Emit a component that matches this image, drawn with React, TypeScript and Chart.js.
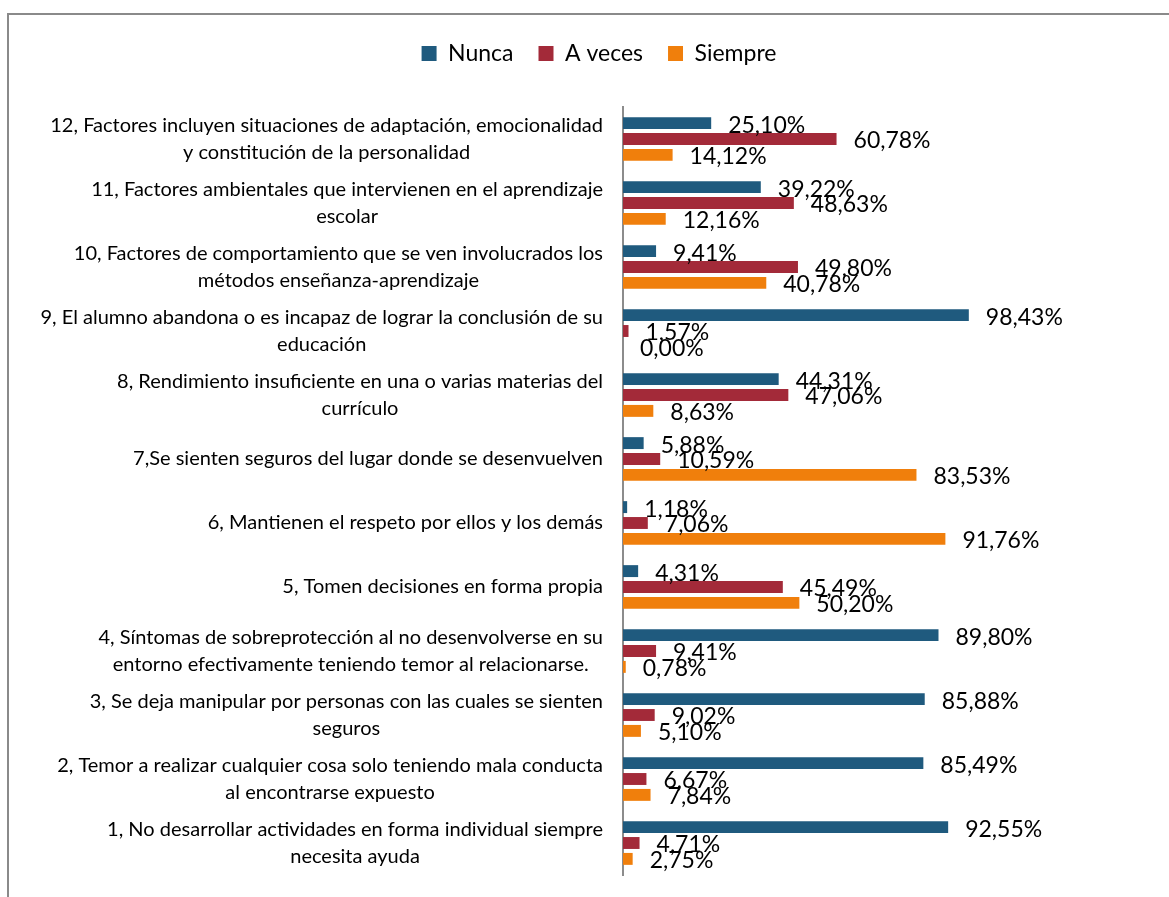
import React, { useEffect, useRef } from 'react';
import { Chart, registerables } from 'chart.js';

Chart.register(...registerables);

const categories: string[][] = [
  ['12, Factores incluyen situaciones de adaptación, emocionalidad', 'y constitución de la personalidad'],
  ['11, Factores ambientales que intervienen en el aprendizaje', 'escolar'],
  ['10, Factores de comportamiento que se ven involucrados los', 'métodos enseñanza-aprendizaje'],
  ['9, El alumno abandona o es incapaz de lograr la conclusión de su', 'educación'],
  ['8, Rendimiento insuficiente en una o varias materias del', 'currículo'],
  ['7,Se sienten seguros del lugar donde se desenvuelven'],
  ['6, Mantienen el respeto por ellos y los demás'],
  ['5, Tomen decisiones en forma propia'],
  ['4, Síntomas de sobreprotección al no desenvolverse en su', 'entorno efectivamente teniendo temor al relacionarse.'],
  ['3, Se deja manipular por personas con las cuales se sienten', 'seguros'],
  ['2, Temor a realizar cualquier cosa solo teniendo mala conducta', 'al encontrarse expuesto'],
  ['1, No desarrollar actividades en forma individual siempre', 'necesita ayuda'],
];

const nunca = [25.1, 39.22, 9.41, 98.43, 44.31, 5.88, 1.18, 4.31, 89.8, 85.88, 85.49, 92.55];
const aVeces = [60.78, 48.63, 49.8, 1.57, 47.06, 10.59, 7.06, 45.49, 9.41, 9.02, 6.67, 4.71];
const siempre = [14.12, 12.16, 40.78, 0.0, 8.63, 83.53, 91.76, 50.2, 0.78, 5.1, 7.84, 2.75];

const seriesNames = ['Nunca', 'A veces', 'Siempre'];
const seriesColors = ['#1f5a7e', '#a32a39', '#f07f0c'];

const FONT = 'Lato, "Open Sans", sans-serif';

const categoryLabelsPlugin = {
  id: 'categoryLabels',
  afterDraw(chart: any) {
    const yScale = chart.scales.y;
    const ctx = chart.ctx as CanvasRenderingContext2D;
    ctx.save();
    ctx.font = `20px ${FONT}`;
    ctx.fillStyle = '#000';
    ctx.textBaseline = 'middle';
    ctx.textAlign = 'center';
    const rightX = chart.chartArea.left - 20;
    const lineHeight = 27;
    categories.forEach((lines, i) => {
      const cy = yScale.getPixelForValue(i);
      const maxW = Math.max(...lines.map((l) => ctx.measureText(l).width));
      const cx = rightX - maxW / 2;
      lines.forEach((l, j) => {
        ctx.fillText(l, cx, cy + (j - (lines.length - 1) / 2) * lineHeight);
      });
    });
    ctx.restore();
  },
};

const valueLabelsPlugin = {
  id: 'valueLabels',
  afterDatasetsDraw(chart: any) {
    const ctx = chart.ctx as CanvasRenderingContext2D;
    ctx.save();
    ctx.font = `23px ${FONT}`;
    ctx.fillStyle = '#000';
    ctx.textBaseline = 'middle';
    ctx.textAlign = 'left';
    chart.data.datasets.forEach((ds: any, di: number) => {
      const meta = chart.getDatasetMeta(di);
      meta.data.forEach((bar: any, i: number) => {
        const v = ds.data[i] as number;
        const txt = v.toFixed(2).replace('.', ',') + '%';
        ctx.fillText(txt, bar.x + 17, bar.y + 2);
      });
    });
    ctx.restore();
  },
};

export default function App() {
  const canvasRef = useRef<HTMLCanvasElement | null>(null);

  useEffect(() => {
    if (!canvasRef.current) return;
    const seriesData = [nunca, aVeces, siempre];
    const chart = new Chart(canvasRef.current, {
      type: 'bar',
      data: {
        labels: categories.map((c) => c.join(' ')),
        datasets: seriesNames.map((name, i) => ({
          label: name,
          data: seriesData[i],
          backgroundColor: seriesColors[i],
          borderWidth: 0,
          categoryPercentage: 0.745,
          barPercentage: 0.75,
        })),
      },
      options: {
        indexAxis: 'y',
        responsive: false,
        maintainAspectRatio: false,
        animation: false,
        devicePixelRatio: 1,
        layout: { padding: { left: 48, right: 19, top: 17, bottom: 22 } },
        plugins: {
          tooltip: { enabled: false },
          legend: {
            position: 'top',
            labels: {
              boxWidth: 15,
              boxHeight: 15,
              padding: 25,
              color: '#000',
              font: { size: 23, family: FONT },
            },
          },
        },
        scales: {
          x: {
            position: 'top',
            min: 0,
            max: 150,
            ticks: { display: false },
            grid: { display: false },
            border: { display: false },
            afterFit: (s: any) => {
              s.height = 32;
            },
          },
          y: {
            ticks: { display: false },
            grid: { display: false, drawTicks: false },
            border: { display: true, color: '#8c8c8c', width: 2 },
            afterFit: (s: any) => {
              s.width = 575;
            },
          },
        },
      } as any,
      plugins: [valueLabelsPlugin, categoryLabelsPlugin],
    });
    return () => chart.destroy();
  }, []);

  return (
    <div style={{ position: 'absolute', left: 0, top: 0, width: 1169, height: 897, overflow: 'hidden', background: '#fff' }}>
      <div
        style={{
          position: 'absolute',
          left: 7,
          top: 13,
          width: 1200,
          height: 1000,
          borderTop: '2px solid #8a8a8a',
          borderLeft: '2px solid #8a8a8a',
        }}
      />
      <canvas ref={canvasRef} width={1169} height={897} style={{ position: 'absolute', left: 0, top: 0 }} />
    </div>
  );
}
